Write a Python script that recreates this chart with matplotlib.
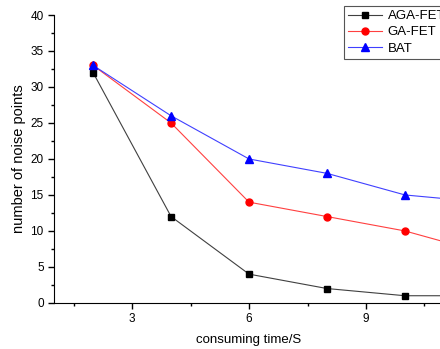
import matplotlib
matplotlib.use('Agg')
from matplotlib import pyplot as plt
from matplotlib.ticker import MultipleLocator, FixedLocator

# data
times = [2, 4, 6, 8, 10, 12]
aga_fet = [32, 12, 4, 2, 1, 1]
ga_fet = [33, 25, 14, 12, 10, 7]
bat = [33, 26, 20, 18, 15, 14]

plt.rcParams['font.family'] = ['Liberation Sans', 'DejaVu Sans']

fig = plt.figure(figsize=(4.4, 3.49), dpi=100)
# axes run a little past the right edge, like the cropped original
ax = fig.add_axes([0.123, 0.132, 0.886, 0.825])

ax.plot(times, aga_fet, color='#404040', lw=0.8, marker='s', ms=4.5, mfc='black', mec='black', label='AGA-FET')
ax.plot(times, ga_fet, color='#ff4040', lw=0.8, marker='o', ms=5, mfc='red', mec='red', label='GA-FET')
ax.plot(times, bat, color='#4040ff', lw=0.8, marker='^', ms=5.5, mfc='blue', mec='blue', label='BAT')

ax.set_xlim(1, 11)
ax.set_ylim(0, 40)
ax.xaxis.set_major_locator(FixedLocator([3, 6, 9]))
ax.xaxis.set_minor_locator(MultipleLocator(1.5))
ax.yaxis.set_major_locator(MultipleLocator(5))
ax.yaxis.set_minor_locator(MultipleLocator(2.5))
ax.tick_params(which='both', direction='out', labelsize=8.5, width=1)
ax.tick_params(which='major', length=4)
ax.tick_params(which='minor', length=2.5)

for s in ['top', 'right']:
    ax.spines[s].set_visible(False)

ax.set_xlabel('consuming time/S', fontsize=9.5, labelpad=6)
ax.set_ylabel('number of noise points', fontsize=10.5, labelpad=3)

leg = ax.legend(loc='upper left', bbox_to_anchor=(344 / 440, 1 - 6 / 349), bbox_transform=fig.transFigure,
                fontsize=9.5, fancybox=False, edgecolor='#555555', framealpha=1, borderpad=0.3,
                labelspacing=0.3, handlelength=2.6, handletextpad=0.4, borderaxespad=0)
leg.get_frame().set_linewidth(0.8)

fig.savefig('out.png', dpi=100)
